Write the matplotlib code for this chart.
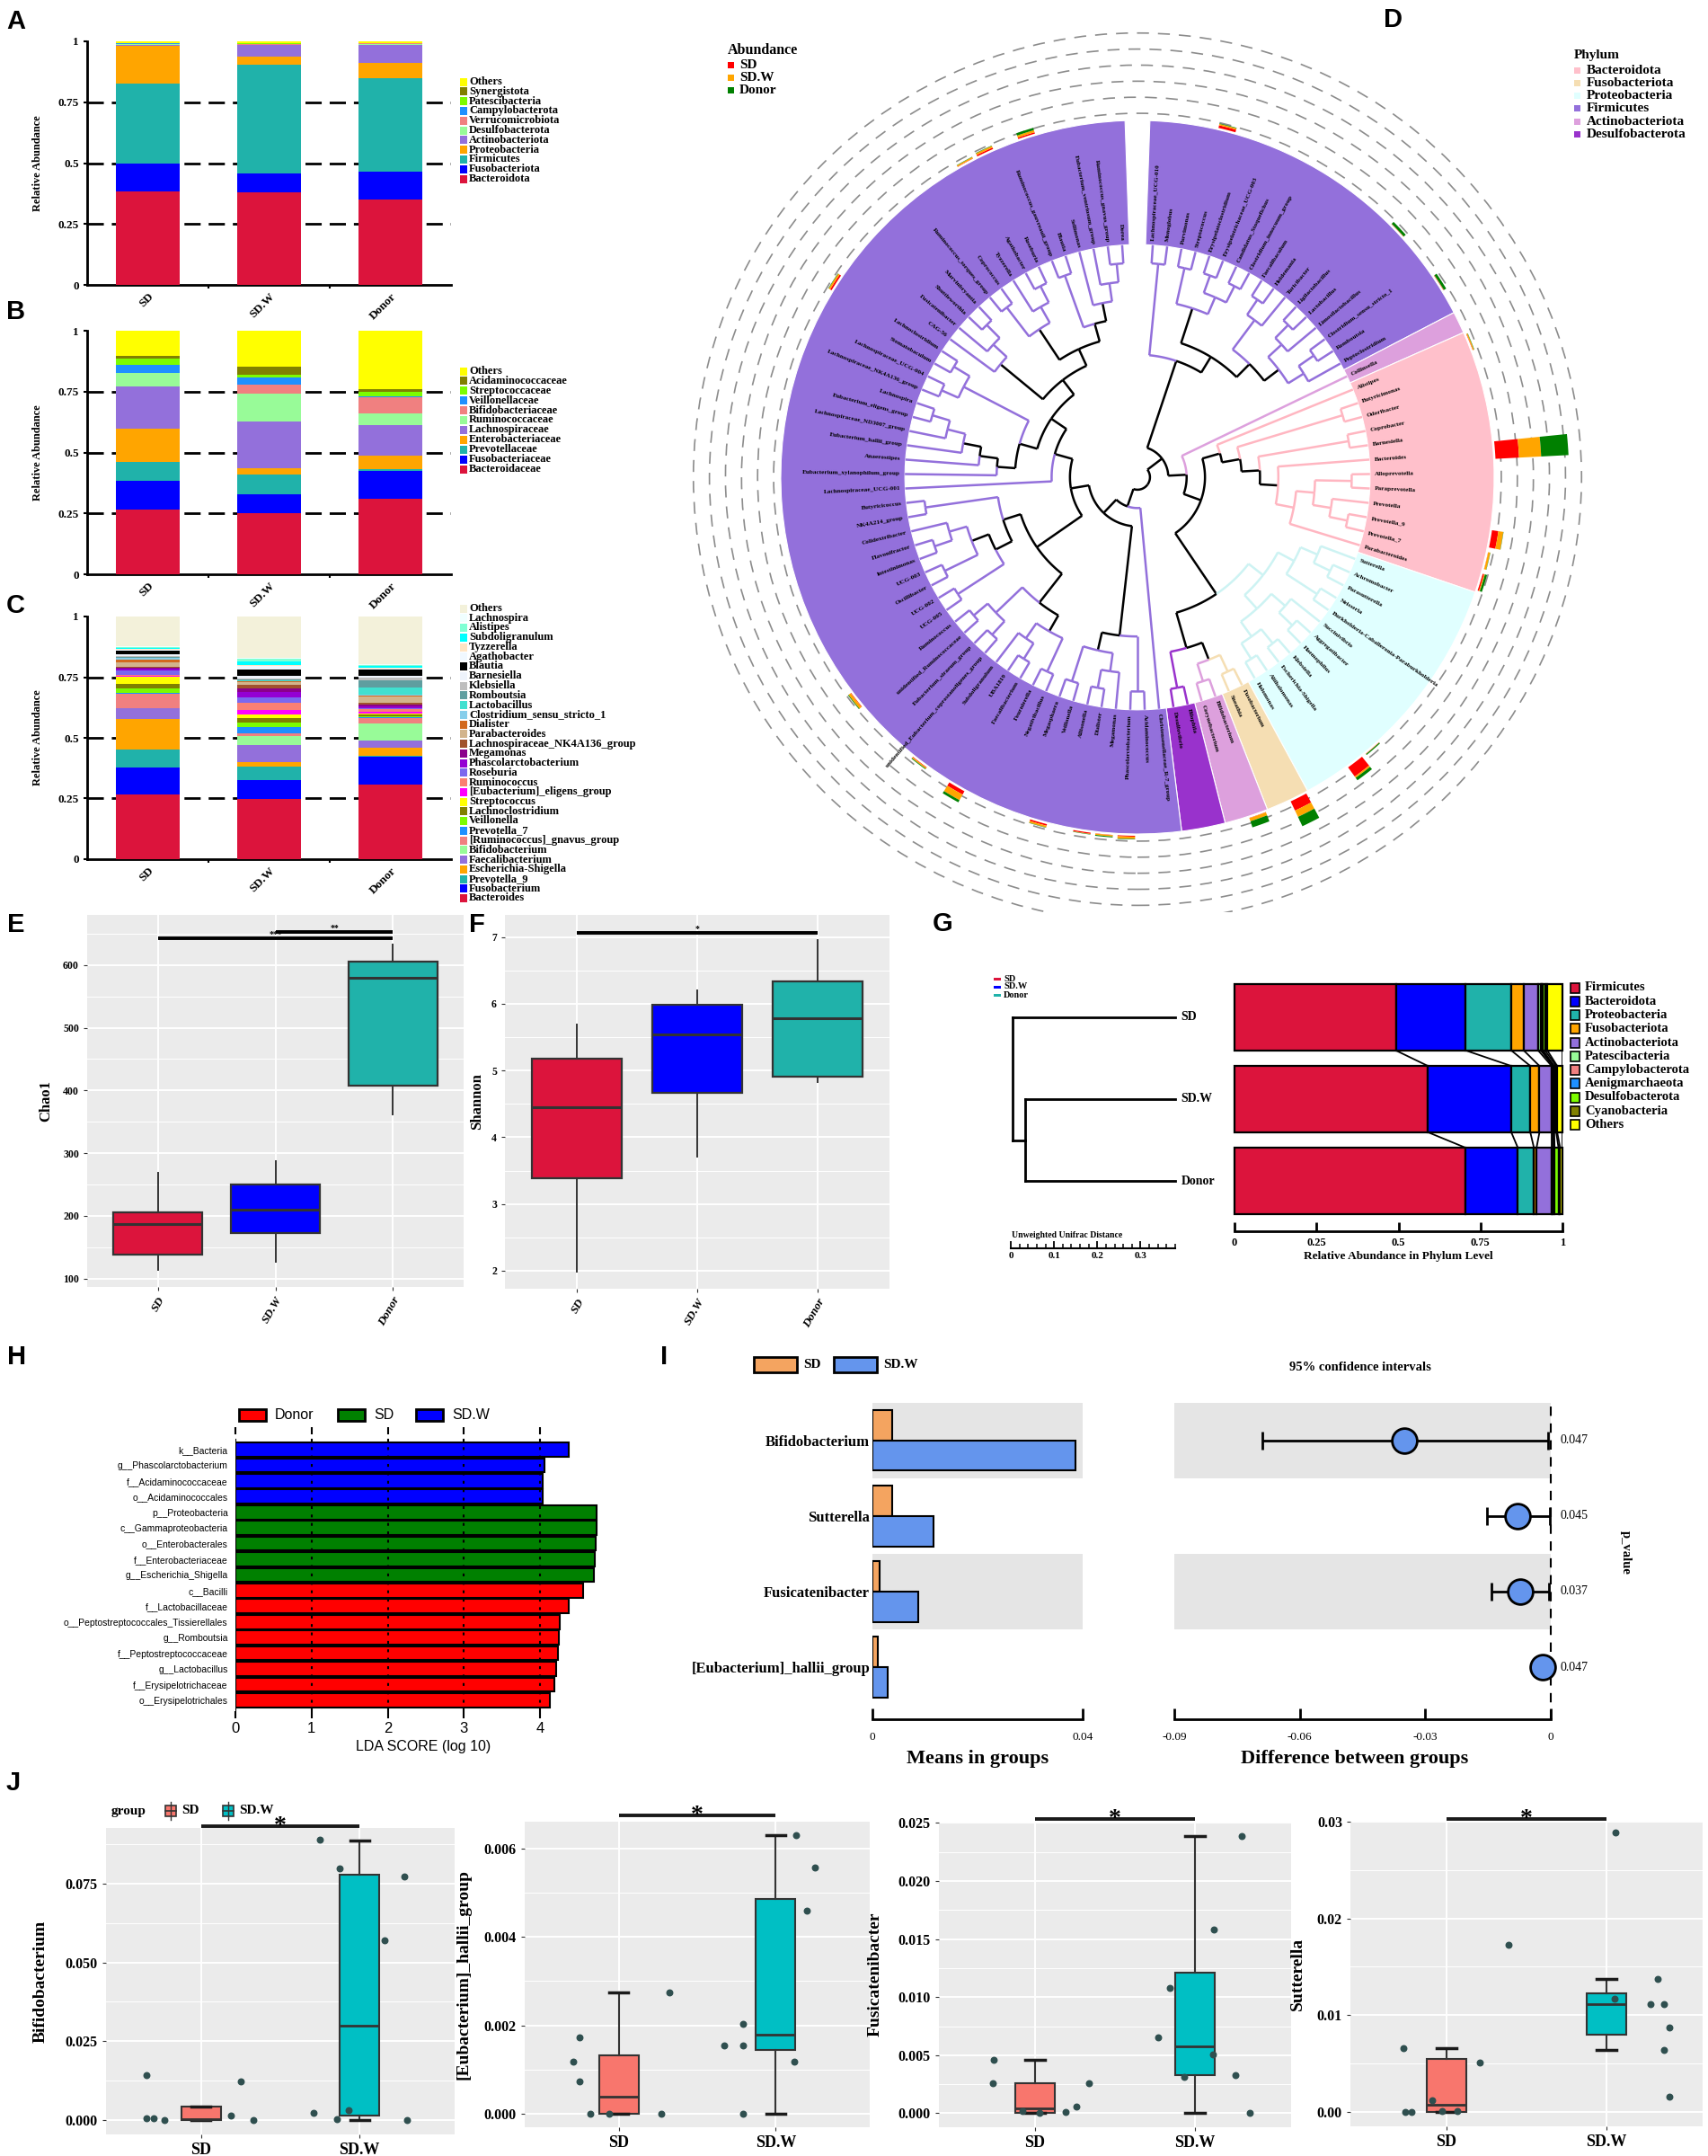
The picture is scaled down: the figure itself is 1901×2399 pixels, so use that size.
import numpy as np
import matplotlib
matplotlib.use("Agg")
import matplotlib.pyplot as plt
from matplotlib.patches import Rectangle, Wedge, Circle
from matplotlib.ticker import MultipleLocator

plt.rcParams["font.family"] = ["Liberation Serif", "DejaVu Serif"]
plt.rcParams["font.weight"] = "bold"
plt.rcParams["axes.labelweight"] = "bold"

SANS = "Liberation Sans"
W, H = 1901, 2399

# ---------------- data ----------------
groups3 = ["SD", "SD.W", "Donor"]

# A: phylum composition
phy_names = ["Bacteroidota", "Fusobacteriota", "Firmicutes", "Proteobacteria", "Actinobacteriota",
             "Desulfobacterota", "Verrucomicrobiota", "Campylobacterota", "Patescibacteria",
             "Synergistota", "Others"]
phy_sd = [0.383, 0.117, 0.328, 0.153, 0.006, 0.002, 0.001, 0.001, 0.001, 0.001, 0.007]
phy_sdw = [0.379, 0.079, 0.446, 0.035, 0.045, 0.003, 0.002, 0.001, 0.001, 0.001, 0.008]
phy_donor = [0.349, 0.117, 0.381, 0.064, 0.076, 0.003, 0.001, 0.001, 0.001, 0.001, 0.006]

# B: family composition
fam_names = ["Bacteroidaceae", "Fusobacteriaceae", "Prevotellaceae", "Enterobacteriaceae",
             "Lachnospiraceae", "Ruminococcaceae", "Bifidobacteriaceae", "Veillonellaceae",
             "Streptococcaceae", "Acidaminococcaceae", "Others"]
fam_sd = [0.265, 0.118, 0.078, 0.135, 0.176, 0.053, 0.003, 0.032, 0.027, 0.010, 0.103]
fam_sdw = [0.251, 0.079, 0.080, 0.024, 0.193, 0.116, 0.035, 0.029, 0.011, 0.034, 0.148]
fam_donor = [0.309, 0.114, 0.009, 0.054, 0.125, 0.048, 0.069, 0.002, 0.018, 0.013, 0.239]
top11_colors = ["#DC143C", "#0000FF", "#20B2AA", "#FFA500", "#9370DB", "#98FB98",
                "#F08080", "#1E90FF", "#7CFC00", "#808000", "#FFFF00"]

# C: genus composition
gen_names = ["Bacteroides", "Fusobacterium", "Prevotella_9", "Escherichia-Shigella", "Faecalibacterium",
             "Bifidobacterium", "[Ruminococcus]_gnavus_group", "Prevotella_7", "Veillonella",
             "Lachnoclostridium", "Streptococcus", "[Eubacterium]_eligens_group", "Ruminococcus",
             "Roseburia", "Phascolarctobacterium", "Megamonas", "Lachnospiraceae_NK4A136_group",
             "Parabacteroides", "Dialister", "Clostridium_sensu_stricto_1", "Lactobacillus",
             "Romboutsia", "Klebsiella", "Barnesiella", "Blautia", "Agathobacter", "Tyzzerella",
             "Subdoligranulum", "Alistipes", "Lachnospira", "Others"]
gen_colors = ["#DC143C", "#0000FF", "#20B2AA", "#FFA500", "#9370DB", "#98FB98", "#F08080", "#1E90FF",
              "#7CFC00", "#808000", "#FFFF00", "#FF00FF", "#FA8072", "#7B68EE", "#9400D3", "#8B008B",
              "#A0522D", "#D2B48C", "#D2691E", "#87CEEB", "#40E0D0", "#5F9EA0", "#BEBEBE", "#EEF3FB",
              "#000000", "#F0F8FF", "#FFE4C4", "#00FFFF", "#7FFFD4", "#F0FFFF", "#F3F1DA"]
gen_sd = [0.265, 0.114, 0.072, 0.127, 0.043, 0.003, 0.059, 0.002, 0.018, 0.019, 0.030, 0.002, 0.006,
          0.017, 0.010, 0.003, 0.004, 0.016, 0.013, 0.005, 0.003, 0.004, 0.003, 0.005, 0.016, 0.004,
          0.002, 0.006, 0.004, 0.003, 0.122]
gen_sdw = [0.248, 0.078, 0.056, 0.018, 0.071, 0.037, 0.012, 0.023, 0.020, 0.019, 0.016, 0.017, 0.030,
           0.020, 0.025, 0.015, 0.013, 0.010, 0.004, 0.003, 0.002, 0.003, 0.003, 0.013, 0.025, 0.015,
           0.005, 0.013, 0.012, 0.002, 0.172]
gen_donor = [0.307, 0.116, 0.003, 0.034, 0.028, 0.072, 0.023, 0.003, 0.004, 0.005, 0.006, 0.008, 0.008,
             0.005, 0.006, 0.010, 0.006, 0.025, 0.004, 0.004, 0.030, 0.030, 0.012, 0.005, 0.027, 0.004,
             0.003, 0.008, 0.004, 0.002, 0.198]

# D: genus tree (leaf order runs clockwise from the top)
fr = (("Lachnospiraceae_UCG-010", "Monoglobus"),
      ((("Parvimonas", "Streptococcus"),
        (("Erysipelatoclostridium", "Erysipelotrichaceae_UCG-003"),
         ("Candidatus_Stoquefichus", "Clostridium_innocuum_group"))),
       ((("Faecalibaculum", "Holdemania"), "Turicibacter"),
        ((("Ligilactobacillus", "Lactobacillus"), "Limosilactobacillus"),
         (("Clostridium_sensu_stricto_1", "Romboutsia"), "Peptoclostridium")))))
bact = ("Alistipes", (("Butyricimonas", "Odoribacter"),
                      (("Coprobacter", "Barnesiella"),
                       ("Bacteroides", ((("Alloprevotella", "Paraprevotella"),
                                         ("Prevotella", ("Prevotella_9", "Prevotella_7"))),
                                        "Parabacteroides")))))
proteo = ((("Sutterella", ("Achromobacter", "Parasutterella")),
           ("Neisseria", "Burkholderia-Caballeronia-Paraburkholderia")),
          (("Succinivibrio", ("Aggregatibacter", "Haemophilus")),
           (("Klebsiella", "Escherichia-Shigella"), ("Aliihalomonas", "Halomonas"))))
fuso = ("Fusobacterium", "Sneathia")
actino2 = ("Bifidobacterium", "Corynebacterium")
desulfo = ("Bilophila", "Desulfovibrio")
negativ = (("Acidaminococcus", "Phascolarctobacterium"),
           (("Megamonas", ("Dialister", "Allisonella")), ("Veillonella", "Megasphaera")))
oscillo = (((("Negativibacillus", "Fournierella"), (("Faecalibacterium", "UBA1819"), "Subdoligranulum")),
            (("unidentified_Eubacterium_coprostanoligenes_group", "Eubacterium_siraeum_group"),
             ("unidentified_Ruminococcaceae", "Ruminococcus"))),
           ((("UCG-005", "UCG-002"),
             (("Oscillibacter", "UCG-003"), (("Intestinimonas", "Flavonifractor"), "Colidextribacter"))),
            ("NK4A214_group", "Butyricicoccus")))
lachno = ((("Eubacterium_xylanophilum_group",
            ("Anaerostipes", ("Eubacterium_hallii_group",
                              ("Lachnospiraceae_ND3007_group", ("Eubacterium_eligens_group", "Lachnospira"))))),
           (("Lachnospiraceae_NK4A136_group", "Lachnospiraceae_UCG-004"), ("Stomatobaculum", "Lachnoclostridium"))),
          (("CAG-56", ("Fusicatenibacter", ("Shuttleworthia", "Marvinbryantia"))),
           ((("Ruminococcus_torques_group", "Coprococcus"), ("Tyzzerella", ("Agathobacter", "Roseburia"))),
            (("Ruminococcus_gauvreauii_group", "Blautia"),
             ("Sellimonas", ("Eubacterium_ventriosum_group", ("Ruminococcus_gnavus_group", "Dorea")))))))
tree = ((fr, ("Collinsella", (bact, (proteo, ((fuso, actino2), desulfo))))),
        ("Christensenellaceae_R-7_group", (negativ, (oscillo, ("Lachnospiraceae_UCG-001", lachno)))))
clade_phylum = [(fr, "Firmicutes"), ("Collinsella", "Actinobacteriota"), (bact, "Bacteroidota"),
                (proteo, "Proteobacteria"), (fuso, "Fusobacteriota"), (actino2, "Actinobacteriota"),
                (desulfo, "Desulfobacterota"), ("Christensenellaceae_R-7_group", "Firmicutes"),
                (negativ, "Firmicutes"), (oscillo, "Firmicutes"), ("Lachnospiraceae_UCG-001", "Firmicutes"),
                (lachno, "Firmicutes")]
phylum_legend = ["Bacteroidota", "Fusobacteriota", "Proteobacteria", "Firmicutes", "Actinobacteriota",
                 "Desulfobacterota"]
phylum_fill = {"Bacteroidota": "#FFC0CB", "Fusobacteriota": "#F5DEB3", "Proteobacteria": "#E0FFFF",
               "Firmicutes": "#9370DB", "Actinobacteriota": "#DDA0DD", "Desulfobacterota": "#9932CC"}
phylum_line = {"Bacteroidota": "#FFB6C1", "Fusobacteriota": "#F5DEB3", "Proteobacteria": "#CDF3F3",
               "Firmicutes": "#9370DB", "Actinobacteriota": "#DDA0DD", "Desulfobacterota": "#9932CC"}
d_abund_taxa = ["Bacteroides", "Fusobacterium", "Escherichia-Shigella", "Prevotella_9", "Faecalibacterium",
                "Bifidobacterium", "Prevotella_7", "Blautia", "Roseburia", "Agathobacter", "Subdoligranulum",
                "Streptococcus", "Lachnoclostridium", "Phascolarctobacterium", "Veillonella",
                "Parabacteroides", "Megamonas", "Romboutsia", "Lactobacillus", "Klebsiella", "Dialister",
                "Ruminococcus", "Alistipes"]
d_abund_sd = [0.265, 0.114, 0.127, 0.072, 0.043, 0.003, 0.002, 0.016, 0.017, 0.004, 0.006, 0.030, 0.019,
              0.010, 0.018, 0.016, 0.003, 0.004, 0.003, 0.003, 0.013, 0.006, 0.004]
d_abund_sdw = [0.248, 0.078, 0.018, 0.056, 0.071, 0.037, 0.023, 0.025, 0.020, 0.015, 0.013, 0.016, 0.019,
               0.025, 0.020, 0.010, 0.015, 0.003, 0.002, 0.003, 0.004, 0.030, 0.012]
d_abund_donor = [0.307, 0.116, 0.034, 0.003, 0.028, 0.072, 0.003, 0.027, 0.005, 0.004, 0.008, 0.006, 0.005,
                 0.006, 0.004, 0.025, 0.010, 0.030, 0.030, 0.012, 0.004, 0.008, 0.004]

# E / F: alpha diversity box statistics
chao_q1 = [138, 172, 408]
chao_med = [186.5, 209.6, 579]
chao_q3 = [206, 249.5, 605]
chao_lo = [114, 127, 362]
chao_hi = [268, 286.5, 632]
shan_q1 = [3.38, 4.67, 4.91]
shan_med = [4.455, 5.545, 5.78]
shan_q3 = [5.17, 5.99, 6.34]
shan_lo = [1.99, 3.71, 4.83]
shan_hi = [5.69, 6.20, 6.95]
alpha_colors = ["#DC143C", "#0000FF", "#20B2AA"]

# G: phylum bars with clustering
g_phyla = ["Firmicutes", "Bacteroidota", "Proteobacteria", "Fusobacteriota", "Actinobacteriota",
           "Patescibacteria", "Campylobacterota", "Aenigmarchaeota", "Desulfobacterota", "Cyanobacteria",
           "Others"]
g_colors = ["#DC143C", "#0000FF", "#20B2AA", "#FFA500", "#9370DB", "#98FB98", "#F08080", "#1E90FF",
            "#7CFC00", "#808000", "#FFFF00"]
g_sd = [0.492, 0.213, 0.139, 0.038, 0.044, 0.008, 0.004, 0.003, 0.006, 0.007, 0.046]
g_sdw = [0.590, 0.254, 0.058, 0.028, 0.037, 0.004, 0.002, 0.002, 0.006, 0.003, 0.016]
g_donor = [0.705, 0.159, 0.049, 0.008, 0.046, 0.004, 0.003, 0.002, 0.012, 0.005, 0.007]
dend_leaf_dist = 0.377
dend_node_dist = 0.029

# H: LEfSe
h_labels = ["k__Bacteria", "g__Phascolarctobacterium", "f__Acidaminococcaceae", "o__Acidaminococcales",
            "p__Proteobacteria", "c__Gammaproteobacteria", "o__Enterobacterales", "f__Enterobacteriaceae",
            "g__Escherichia_Shigella", "c__Bacilli", "f__Lactobacillaceae",
            "o__Peptostreptococcales_Tissierellales", "g__Romboutsia", "f__Peptostreptococcaceae",
            "g__Lactobacillus", "f__Erysipelotrichaceae", "o__Erysipelotrichales"]
h_scores = [4.37, 4.06, 4.03, 4.03, 4.74, 4.74, 4.73, 4.72, 4.71, 4.57, 4.37, 4.26, 4.25, 4.24, 4.21,
            4.19, 4.13]
h_groups = ["SD.W"] * 4 + ["SD"] * 5 + ["Donor"] * 8
h_color = {"Donor": "#FF0000", "SD": "#008000", "SD.W": "#0000FF"}

# I: extended error bar
i_taxa = ["Bifidobacterium", "Sutterella", "Fusicatenibacter", "[Eubacterium]_hallii_group"]
i_mean_sd = [0.0037, 0.0038, 0.0014, 0.0010]
i_mean_sdw = [0.0386, 0.0117, 0.0087, 0.0029]
i_diff = [-0.0351, -0.0079, -0.0073, -0.0019]
i_ci_lo = [-0.0690, -0.0153, -0.0141, -0.0034]
i_ci_hi = [-0.0006, -0.0003, -0.0004, -0.0003]
i_pval = ["0.047", "0.045", "0.037", "0.047"]

# J: genus boxplots (whislo, q1, med, q3, whishi) and jittered points
bif_sd_box = [0.0, 0.0, 0.0003, 0.0042, 0.0042]
bif_sdw_box = [0.0, 0.0015, 0.0298, 0.0778, 0.0888]
bif_sd_dx = [-0.345, -0.345, -0.30, -0.23, 0.19, 0.25, 0.33]
bif_sd_y = [0.0142, 0.0005, 0.0006, 0.0, 0.0013, 0.0123, 0.0]
bif_sdw_dx = [-0.25, -0.125, 0.28, 0.155, -0.29, -0.14, -0.07, 0.30]
bif_sdw_y = [0.0889, 0.0800, 0.0772, 0.0570, 0.0022, 0.0003, 0.0030, 0.0]
hal_sd_box = [0.0, 0.0, 0.00038, 0.00132, 0.00275]
hal_sdw_box = [0.0, 0.00144, 0.0018, 0.00485, 0.0063]
hal_sd_dx = [-0.25, -0.29, -0.25, -0.18, -0.06, 0.27, 0.32]
hal_sd_y = [0.00173, 0.00119, 0.00074, 0.0, 0.0, 0.0, 0.00275]
hal_sdw_dx = [0.13, 0.25, 0.20, -0.21, -0.33, -0.21, 0.12, -0.21]
hal_sdw_y = [0.0063, 0.00556, 0.00459, 0.00203, 0.00155, 0.00154, 0.00118, 0.0]
fus_sd_box = [0.0, 0.0, 0.0004, 0.0026, 0.0046]
fus_sdw_box = [0.0, 0.0033, 0.0058, 0.0121, 0.0239]
fus_sd_dx = [-0.255, -0.265, -0.08, 0.03, 0.19, 0.26, 0.34]
fus_sd_y = [0.0046, 0.0026, 0.0002, 0.0, 0.0001, 0.0006, 0.0026]
fus_sdw_dx = [0.29, 0.12, -0.155, -0.23, 0.11, -0.07, 0.25, 0.34]
fus_sdw_y = [0.0239, 0.0158, 0.0108, 0.0065, 0.0051, 0.0031, 0.0033, 0.0]
sut_sd_box = [0.0, 0.0, 0.0007, 0.0055, 0.0066]
sut_sdw_box = [0.0064, 0.0080, 0.0111, 0.0123, 0.0137]
sut_sd_dx = [-0.27, -0.26, -0.22, -0.09, -0.03, 0.07, 0.21, 0.385]
sut_sd_y = [0.0066, 0.0, 0.0, 0.0012, 0.0001, 0.0001, 0.0051, 0.0173]
sut_sdw_dx = [0.055, 0.32, 0.05, 0.275, 0.36, 0.39, 0.36, 0.39]
sut_sdw_y = [0.0289, 0.0137, 0.0117, 0.0111, 0.0111, 0.0087, 0.0064, 0.0016]
j_colors = ["#F8766D", "#00BFC4"]

# ---------------- figure ----------------
fig = plt.figure(figsize=(W / 100, H / 100), dpi=100)


def px_axes(x0, y0, x1, y1):
    return fig.add_axes([x0 / W, 1 - y1 / H, (x1 - x0) / W, (y1 - y0) / H])


legend_jobs = []   # drawn on the overlay at the end


# A, B, C stacked bars
def stacked_panel(rect, names, colors, vals, leg_top, leg_step):
    ax = px_axes(*rect)
    xs = np.array([0.5, 1.5, 2.5])
    bottom = np.zeros(3)
    for k, col in enumerate(colors):
        v = np.array([vals[0][k], vals[1][k], vals[2][k]])
        ax.bar(xs, v, bottom=bottom, width=0.52, color=col, lw=0, zorder=3)
        bottom += v
    for yv in (0.25, 0.5, 0.75):
        ax.axhline(yv, color="black", lw=2, ls=(0, (6.5, 3.2)), zorder=1)
    ax.set_xlim(0, 3)
    ax.set_ylim(0, 1)
    for s in ("top", "right"):
        ax.spines[s].set_visible(False)
    for s in ("left", "bottom"):
        ax.spines[s].set_linewidth(2)
    ax.set_yticks([0, 0.25, 0.5, 0.75, 1], ["0", "0.25", "0.5", "0.75", "1"], fontsize=9.5)
    ax.set_xticks([1, 2], ["", ""])
    ax.set_xticks(xs, groups3, minor=True, rotation=45, ha="right", rotation_mode="anchor", fontsize=9.5)
    ax.tick_params(axis="x", which="minor", length=0, pad=5)
    ax.tick_params(which="major", length=3, width=1.5)
    ax.set_ylabel("Relative Abundance", fontsize=9)
    ax.yaxis.set_label_coords(-0.12, 0.5)
    legend_jobs.append((names[::-1], colors[::-1], leg_top, leg_step))


stacked_panel((97, 46, 502, 317), phy_names, top11_colors, (phy_sd, phy_sdw, phy_donor), 91, 10.8)
stacked_panel((97, 368, 502, 639), fam_names, top11_colors, (fam_sd, fam_sdw, fam_donor), 413, 10.9)
stacked_panel((97, 686, 502, 956), gen_names, gen_colors, (gen_sd, gen_sdw, gen_donor), 677, 10.75)

# D circular tree
axd = px_axes(770, 0, 1901, 1015)
axd.set_xlim(770, 1901)
axd.set_ylim(-1015, 0)
axd.axis("off")
CX, CY, R = 1266, -531, 397
R_LEAF, R_ROOT, R_LAB = 0.652, 0.035, 0.665


def leaves_of(n):
    return [n] if isinstance(n, str) else [l for c in n for l in leaves_of(c)]


def height(n):
    return 0 if isinstance(n, str) else 1 + max(height(c) for c in n)


phylum_of = {}
for clade, ph in clade_phylum:
    for l in leaves_of(clade):
        phylum_of[l] = ph

leaf_order = leaves_of(tree)
step = 356.0 / len(leaf_order)
leaf_ang = {nm: 88.0 - (i + 0.5) * step for i, nm in enumerate(leaf_order)}
H_ROOT = height(tree)


def angle(n):
    if isinstance(n, str):
        return leaf_ang[n]
    return np.mean([angle(c) for c in n])


def radius(n):
    if isinstance(n, str):
        return R_LEAF
    return R_ROOT + (R_LEAF - R_ROOT) * (1 - height(n) / H_ROOT)


def mono(n):
    s = {phylum_of[l] for l in leaves_of(n)}
    return s.pop() if len(s) == 1 else None


def pol(r, a):
    t = np.radians(a)
    return CX + r * R * np.cos(t), CY + r * R * np.sin(t)


for rr in (1.02, 1.065, 1.11, 1.155, 1.2, 1.245):
    axd.add_patch(Circle((CX, CY), rr * R, fill=False, ec="#8c8c8c", lw=1.2, ls=(0, (8, 6)), zorder=1))

runs = []
for nm in leaf_order:
    ph = phylum_of[nm]
    if runs and runs[-1][0] == ph:
        runs[-1][2] = leaf_ang[nm]
    else:
        runs.append([ph, leaf_ang[nm], leaf_ang[nm]])
for ph, a_first, a_last in runs:
    axd.add_patch(Wedge((CX, CY), R, a_last - step / 2, a_first + step / 2, width=R * (1 - R_LEAF),
                        fc=phylum_fill[ph], ec="white", lw=0.8, zorder=2))


def draw_edges(n):
    if isinstance(n, str):
        return
    rn, an = radius(n), angle(n)
    for c in n:
        rc, ac = radius(c), angle(c)
        ph = mono(c)
        lim = 2 if ph == "Firmicutes" else 4
        col = phylum_line[ph] if (ph is not None and height(c) <= lim) else "black"
        th = np.linspace(an, ac, 30)
        xa, ya = pol(rn, th)
        axd.plot(xa, ya, color=col, lw=1.8, zorder=3, solid_capstyle="butt")
        x0, y0 = pol(rn, ac)
        x1, y1 = pol(rc, ac)
        axd.plot([x0, x1], [y0, y1], color=col, lw=1.8, zorder=3, solid_capstyle="butt")
        draw_edges(c)


draw_edges(tree)

for nm in leaf_order:
    a = leaf_ang[nm]
    x, y = pol(R_LAB, a)
    if np.cos(np.radians(a)) >= 0:
        rot, ha = a, "left"
    else:
        rot, ha = a + 180, "right"
    axd.text(x, y, nm, rotation=rot, rotation_mode="anchor", ha=ha, va="center", fontsize=5.2, zorder=4)

for nm, a1, a2, a3 in zip(d_abund_taxa, d_abund_sd, d_abund_sdw, d_abund_donor):
    a = leaf_ang[nm]
    r0 = 1.005 * R
    for v, col in ((a1, "#FF0000"), (a2, "#FFA500"), (a3, "#008000")):
        L = v * 0.25 * R
        axd.add_patch(Wedge((CX, CY), r0 + L, a - 1.4, a + 1.4, width=L, fc=col, ec="none", zorder=5))
        r0 += L


# E, F alpha diversity
def alpha_panel(rect, q1, med, q3, lo, hi, ylim, ymaj, yminor, ylabel, ylab_x, sig):
    ax = px_axes(*rect)
    ax.set_facecolor("#EBEBEB")
    stats = [dict(med=m, q1=a, q3=b, whislo=l, whishi=h) for a, m, b, l, h in zip(q1, med, q3, lo, hi)]
    bp = ax.bxp(stats, positions=[0, 1, 2], widths=0.75, patch_artist=True, showfliers=False,
                showcaps=False, manage_ticks=False,
                boxprops=dict(edgecolor="#333333", linewidth=1.6),
                whiskerprops=dict(color="#333333", linewidth=1.4),
                medianprops=dict(color="#333333", linewidth=2.2), zorder=3)
    for patch, c in zip(bp["boxes"], alpha_colors):
        patch.set_facecolor(c)
    ax.set_xlim(-0.6, 2.6)
    ax.set_ylim(*ylim)
    ax.set_yticks(ymaj, [f"{v:g}" for v in ymaj], fontsize=8.5)
    ax.yaxis.set_minor_locator(MultipleLocator(yminor))
    ax.set_axisbelow(True)
    ax.grid(which="major", color="white", lw=1.4)
    ax.grid(which="minor", axis="y", color="white", lw=0.7)
    ax.set_xticks([0, 1, 2], groups3, rotation=60, ha="right", rotation_mode="anchor",
                  fontstyle="italic", fontsize=9.5)
    ax.tick_params(which="major", length=3, color="#333333")
    ax.tick_params(which="minor", length=0)
    for s in ax.spines.values():
        s.set_visible(False)
    ax.set_ylabel(ylabel, fontsize=12)
    ax.yaxis.set_label_coords(ylab_x, 0.5)
    for a, b, yv, txt, tx in sig:
        ax.plot([a, b], [yv, yv], color="black", lw=2.8, zorder=4, clip_on=False, solid_capstyle="butt")
        ax.text(tx, yv, txt, ha="center", va="bottom", fontsize=7)
    return ax


alpha_panel((97, 1018, 516, 1432), chao_q1, chao_med, chao_q3, chao_lo, chao_hi, (86.5, 680),
            [100, 200, 300, 400, 500, 600], 50, "Chao1", -0.09,
            [(0, 2, 643, "***", 1.0), (1, 2, 653, "**", 1.5)])
alpha_panel((562, 1018, 990, 1434), shan_q1, shan_med, shan_q3, shan_lo, shan_hi, (1.73, 7.33),
            [2, 3, 4, 5, 6, 7], 0.5, "Shannon", -0.054, [(0, 2, 7.06, "*", 1.0)])

# G: phylum bars + dendrogram
axg = px_axes(1374, 1085, 1739, 1370)
ypos = [2, 1, 0]
cums = []
for yp, vals in zip(ypos, (g_sd, g_sdw, g_donor)):
    left = 0.0
    edges = []
    for v, col in zip(vals, g_colors):
        axg.barh(yp, v, left=left, height=0.81, color=col, edgecolor="black", lw=1.6, clip_on=False)
        left += v
        edges.append(left)
    cums.append(edges)
for s in range(2):
    for k in range(len(g_phyla)):
        axg.plot([cums[s][k], cums[s + 1][k]], [ypos[s] - 0.405, ypos[s + 1] + 0.405], color="black", lw=1.3)
axg.set_xlim(0, 1)
axg.set_ylim(-0.615, 2.516)
for s in ("left", "right", "top"):
    axg.spines[s].set_visible(False)
axg.spines["bottom"].set_linewidth(2)
axg.set_yticks([])
axg.set_xticks([0, 0.25, 0.5, 0.75, 1], ["0", "0.25", "0.5", "0.75", "1"], fontsize=9)
axg.tick_params(axis="x", direction="in", length=7, width=2, pad=5)
axg.text(0.5, -0.1, "Relative Abundance in Phylum Level", transform=axg.transAxes, ha="center",
         va="center", fontsize=9.5)
legend_jobs.append(("G", g_phyla, g_colors))

axdd = px_axes(1120, 1085, 1330, 1370)
axdd.set_xlim(-0.0146, 0.4228)
axdd.set_ylim(-0.615, 2.516)
axdd.axis("off")
node_y = np.mean(ypos[1:])
axdd.plot([0, 0], [ypos[0], node_y], color="black", lw=2)
axdd.plot([0, dend_leaf_dist], [ypos[0], ypos[0]], color="black", lw=2)
axdd.plot([0, dend_node_dist], [node_y, node_y], color="black", lw=2)
axdd.plot([dend_node_dist, dend_node_dist], [ypos[1], ypos[2]], color="black", lw=2)
for yp in ypos[1:]:
    axdd.plot([dend_node_dist, dend_leaf_dist], [yp, yp], color="black", lw=2)
for yp, nm in zip(ypos, groups3):
    axdd.text(dend_leaf_dist + 0.014, yp, nm, ha="left", va="center", fontsize=10)

axr_ = px_axes(1125, 1365, 1308, 1389)
axr_.set_xlim(0, 0.38)
axr_.set_ylim(0, 1)
for s in ("left", "right", "top"):
    axr_.spines[s].set_visible(False)
axr_.spines["bottom"].set_linewidth(1.5)
axr_.set_yticks([])
axr_.set_xticks([0, 0.1, 0.2, 0.3], ["0", "0.1", "0.2", "0.3"], fontsize=8)
axr_.xaxis.set_minor_locator(MultipleLocator(0.02))
axr_.tick_params(axis="x", which="major", direction="in", length=6, width=1.3, pad=3)
axr_.tick_params(axis="x", which="minor", direction="in", length=3.5, width=1.1)
axr_.patch.set_alpha(0)
axr_.text(0.005, 0.6, "Unweighted Unifrac Distance", transform=axr_.transAxes, ha="left", va="center",
          fontsize=7)

# H: LEfSe bars
axh = px_axes(262, 1596, 680, 1904)
ys = np.arange(len(h_labels))[::-1]
axh.barh(ys, h_scores, height=0.9, color=[h_color[g] for g in h_groups], edgecolor="black", lw=1.5,
         zorder=2)
for xv in range(5):
    axh.axvline(xv, color="black", ls=(0, (1.5, 3)), lw=1.5, zorder=3)
axh.set_xlim(0, 4.93)
axh.set_ylim(-0.69, 16.97)
for s in axh.spines.values():
    s.set_visible(False)
axh.set_xticks(range(5), [str(v) for v in range(5)], fontsize=12, fontfamily=SANS, fontweight="normal")
axh.set_yticks(ys, h_labels, fontsize=7.5, fontfamily=SANS, fontweight="normal")
axh.tick_params(axis="y", length=0, pad=6)
axh.tick_params(axis="x", length=6, width=1.5, top=True, pad=3)
axh.text(0.5, -0.127, "LDA SCORE (log 10)", transform=axh.transAxes, ha="center", va="center",
         fontsize=11.5, fontfamily=SANS, fontweight="normal")

# I: extended error bar
rows = np.arange(len(i_taxa))[::-1]
axl = px_axes(971, 1560, 1205, 1913)
axr = px_axes(1307, 1560, 1726, 1913)
for ax, xl in ((axl, (0, 0.04)), (axr, (-0.09, 0))):
    ax.set_xlim(*xl)
    ax.set_ylim(-0.69, 3.51)
    for s in ("left", "right", "top"):
        ax.spines[s].set_visible(False)
    ax.spines["bottom"].set_linewidth(2)
    for k, yv in enumerate(rows):
        if k % 2 == 0:
            ax.axhspan(yv - 0.5, yv + 0.5, color="#E5E5E5", lw=0, zorder=0)
    ax.tick_params(axis="x", direction="in", length=9, width=2, pad=10)
axl.barh(rows + 0.2, i_mean_sd, height=0.4, color="#F4A460", edgecolor="black", lw=1.5, zorder=2)
axl.barh(rows - 0.2, i_mean_sdw, height=0.4, color="#6495ED", edgecolor="black", lw=1.5, zorder=2)
axl.set_xticks([0, 0.04], ["0", "0.04"], fontsize=9.5, fontweight="normal")
axl.set_yticks(rows, i_taxa, fontsize=12)
axl.tick_params(axis="y", length=0, pad=2)
axl.text(0.5, -0.125, "Means in groups", transform=axl.transAxes, ha="center", va="center", fontsize=16)

xerr = [np.array(i_diff) - np.array(i_ci_lo), np.array(i_ci_hi) - np.array(i_diff)]
axr.errorbar(i_diff, rows, xerr=xerr, fmt="none", ecolor="black", elinewidth=2, capsize=7, capthick=2,
             zorder=3)
axr.plot(i_diff, rows, "o", ms=20, mfc="#6495ED", mec="black", mew=2, zorder=4, clip_on=False)
axr.axvline(0, color="black", lw=1.5, ls=(0, (5, 4)), zorder=2, clip_on=False)
axr.set_xticks([-0.09, -0.06, -0.03, 0], ["-0.09", "-0.06", "-0.03", "0"], fontsize=9.5, fontweight="normal")
axr.set_yticks([])
for yv, p in zip(rows, i_pval):
    axr.text(1.024, yv, p, transform=axr.get_yaxis_transform(), ha="left", va="center", fontsize=10,
             fontweight="normal")
axr.text(1.198, 0.527, "p_value", transform=axr.transAxes, rotation=-90, ha="center", va="center",
         fontsize=10.5)
axr.text(0.494, 1.108, "95% confidence intervals", transform=axr.transAxes, ha="center", va="center",
         fontsize=10.5)
axr.text(0.48, -0.125, "Difference between groups", transform=axr.transAxes, ha="center", va="center",
         fontsize=16)


# J: genus boxplots
def j_panel(rect, sd_box, sdw_box, sd_dx, sd_y, sdw_dx, sdw_y, ylim, ticks, fmt, minor, ylabel, ylab_x,
            sig_y):
    ax = px_axes(*rect)
    ax.set_facecolor("#EBEBEB")
    stats = [dict(whislo=b[0], q1=b[1], med=b[2], q3=b[3], whishi=b[4]) for b in (sd_box, sdw_box)]
    bp = ax.bxp(stats, positions=[0, 1], widths=0.25, capwidths=0.12, patch_artist=True,
                showfliers=False, manage_ticks=False,
                boxprops=dict(edgecolor="#333333", linewidth=1.5),
                whiskerprops=dict(color="#333333", linewidth=1.5),
                capprops=dict(color="#1a1a1a", linewidth=2.5),
                medianprops=dict(color="#333333", linewidth=2), zorder=3)
    for patch, c in zip(bp["boxes"], j_colors):
        patch.set_facecolor(c)
    ax.scatter(np.array(sd_dx), sd_y, s=22, color="#2F4F4F", zorder=4)
    ax.scatter(1 + np.array(sdw_dx), sdw_y, s=22, color="#2F4F4F", zorder=4)
    ax.set_xlim(-0.6, 1.6)
    ax.set_ylim(*ylim)
    ax.set_yticks(ticks, [fmt % v for v in ticks], fontsize=11.5)
    ax.yaxis.set_minor_locator(MultipleLocator(minor))
    ax.set_axisbelow(True)
    ax.grid(which="major", color="white", lw=1.4)
    ax.grid(which="minor", axis="y", color="white", lw=0.7)
    ax.set_xticks([0, 1], ["SD", "SD.W"], fontsize=13)
    ax.tick_params(which="major", length=3, color="#333333")
    ax.tick_params(which="minor", length=0)
    for s in ax.spines.values():
        s.set_visible(False)
    ax.set_ylabel(ylabel, fontsize=14)
    ax.yaxis.set_label_coords(ylab_x, 0.5)
    ax.plot([0, 1], [sig_y, sig_y], color="#1a1a1a", lw=2.8, clip_on=False, solid_capstyle="butt")
    ax.annotate("*", (0.5, sig_y), xytext=(0, -5), textcoords="offset points", ha="center", va="baseline",
                fontsize=20, annotation_clip=False)


j_panel((118, 2034, 506, 2375), bif_sd_box, bif_sdw_box, bif_sd_dx, bif_sd_y, bif_sdw_dx, bif_sdw_y,
        (-0.0046, 0.0927), [0, 0.025, 0.05, 0.075], "%.3f", 0.0125, "Bifidobacterium", -0.165, 0.0932)
j_panel((584, 2027, 968, 2367), hal_sd_box, hal_sdw_box, hal_sd_dx, hal_sd_y, hal_sdw_dx, hal_sdw_y,
        (-0.0003, 0.0066), [0, 0.002, 0.004, 0.006], "%.3f", 0.001, "[Eubacterium]_hallii_group", -0.156,
        0.00674)
j_panel((1045, 2027, 1437, 2367), fus_sd_box, fus_sdw_box, fus_sd_dx, fus_sd_y, fus_sdw_dx, fus_sdw_y,
        (-0.0012, 0.0251), [0, 0.005, 0.01, 0.015, 0.02, 0.025], "%.3f", 0.0025, "Fusicatenibacter", -0.16,
        0.0253)
j_panel((1503, 2026, 1895, 2366), sut_sd_box, sut_sdw_box, sut_sd_dx, sut_sd_y, sut_sdw_dx, sut_sdw_y,
        (-0.0015, 0.0301), [0, 0.01, 0.02, 0.03], "%.2f", 0.005, "Sutterella", -0.128, 0.0303)

# ---------------- overlay: letters and legends ----------------
ov = fig.add_axes([0, 0, 1, 1])
ov.set_xlim(0, W)
ov.set_ylim(H, 0)
ov.axis("off")

for letter, x, y in (("A", 7, 10), ("B", 7, 333), ("C", 7, 660), ("D", 1540, 8), ("E", 8, 1015),
                     ("F", 522, 1015), ("G", 1038, 1014), ("H", 8, 1496), ("I", 735, 1496), ("J", 7, 1970)):
    ov.text(x, y, letter, fontsize=21, fontweight="bold", fontfamily=SANS, ha="left", va="top")

for job in legend_jobs:
    if job[0] == "G":
        for k, (nm, col) in enumerate(zip(job[1], job[2])):
            yc = 1099 + k * 15.25
            ov.add_patch(Rectangle((1748, yc - 5.5), 10, 11, fc=col, ec="black", lw=1.2))
            ov.text(1764, yc, nm, ha="left", va="center", fontsize=10.5)
        continue
    names, colors, top, stp = job
    for k, (nm, col) in enumerate(zip(names, colors)):
        yc = top + k * stp
        ov.add_patch(Rectangle((512, yc - 4.5), 8, 9, fc=col, ec="none"))
        ov.text(522, yc, nm, ha="left", va="center", fontsize=9)

# D legends
ov.text(810, 56, "Abundance", ha="left", va="center", fontsize=11.5)
for k, (nm, col) in enumerate(zip(groups3, ("#FF0000", "#FFA500", "#008000"))):
    yc = 72 + k * 14
    ov.add_patch(Rectangle((810, yc - 3.5), 7, 7, fc=col, ec="none"))
    ov.text(823, yc, nm, ha="left", va="center", fontsize=11)
ov.text(1752, 62, "Phylum", ha="left", va="center", fontsize=11)
for k, nm in enumerate(phylum_legend):
    yc = 78 + k * 14.3
    ov.add_patch(Rectangle((1752, yc - 3.5), 7, 7, fc=phylum_fill[nm], ec="none"))
    ov.text(1766, yc, nm, ha="left", va="center", fontsize=11)

# G small legend
for k, (nm, col) in enumerate(zip(groups3, alpha_colors)):
    yc = 1089 + k * 9
    ov.add_patch(Rectangle((1106, yc - 1.5), 8, 3, fc=col, ec="none"))
    ov.text(1117, yc, nm, ha="left", va="center", fontsize=7.5)

# H legend
for x0, nm in ((266, "Donor"), (376, "SD"), (463, "SD.W")):
    ov.add_patch(Rectangle((x0, 1568), 30, 13, fc=h_color[nm], ec="black", lw=2))
    ov.text(x0 + 40, 1574.5, nm, ha="left", va="center", fontsize=11.5, fontfamily=SANS, fontweight="normal")

# I legend
for x0, nm, col in ((839, "SD", "#F4A460"), (928, "SD.W", "#6495ED")):
    ov.add_patch(Rectangle((x0, 1510), 48, 17, fc=col, ec="black", lw=2))
    ov.text(x0 + 55, 1519, nm, ha="left", va="center", fontsize=11)

# J legend
ov.text(124, 2015, "group", ha="left", va="center", fontsize=11)
for x0, nm, col in ((184, "SD", j_colors[0]), (248, "SD.W", j_colors[1])):
    ov.plot([x0 + 6, x0 + 6], [2005, 2025], color="#333333", lw=1)
    ov.add_patch(Rectangle((x0, 2009), 12, 12, fc=col, ec="#333333", lw=1.2))
    ov.plot([x0, x0 + 12], [2015, 2015], color="#333333", lw=1.2)
    ov.text(x0 + 18, 2015, nm, ha="left", va="center", fontsize=11)

fig.savefig("out.png", dpi=100)
